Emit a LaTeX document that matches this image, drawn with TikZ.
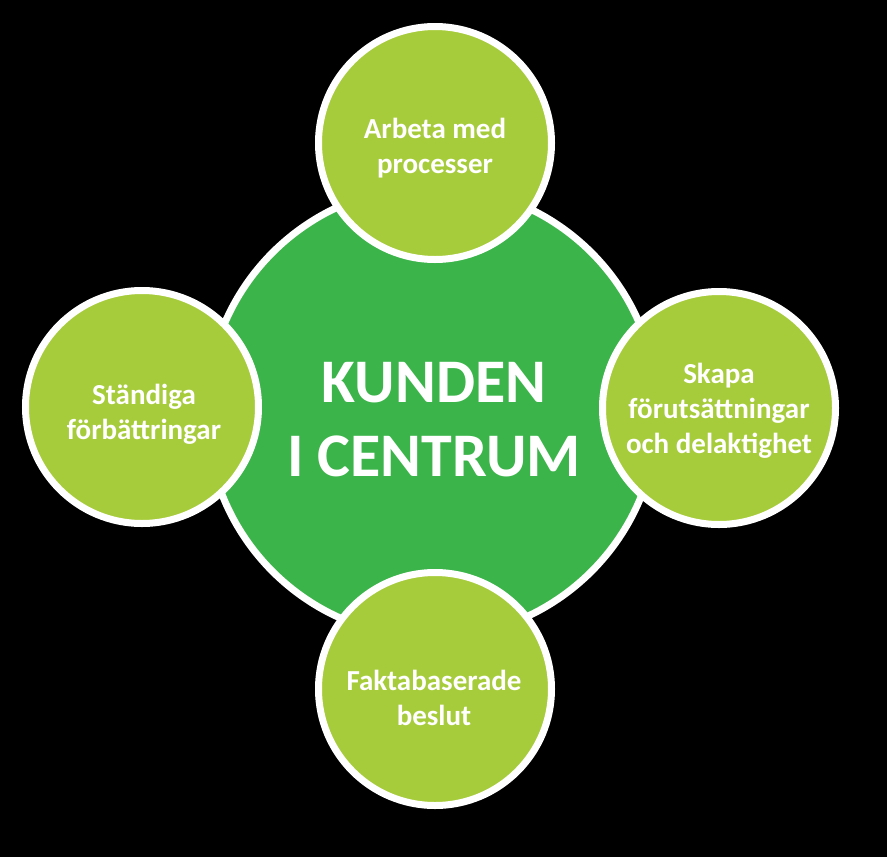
\documentclass[tikz,border=0pt]{standalone}
\usepackage{fontspec}
\setmainfont{Carlito}
\definecolor{centergreen}{HTML}{3BB44A}
\definecolor{leafgreen}{HTML}{A7CC3B}
\begin{document}
\begin{tikzpicture}[x=1pt,y=-1pt,
  hub/.style={circle,draw=white,line width=7pt,fill=centergreen,minimum size=451pt,inner sep=0pt},
  leaf/.style={circle,draw=white,line width=7pt,fill=leafgreen,minimum size=233pt,inner sep=0pt},
  bigtext/.style={text=white,align=center,inner sep=0pt,font=\fontsize{62}{74}\selectfont\bfseries},
  smalltext/.style={text=white,align=center,inner sep=0pt,font=\fontsize{29}{35}\selectfont\bfseries}]
\fill[black] (0,0) rectangle (887,857);
\useasboundingbox (0,0) rectangle (887,857);
\node[hub] (hub) at (432,412) {};
\node[leaf] (top) at (435,143) {};
\node[leaf] (right) at (719,408) {};
\node[leaf] (bottom) at (435,689) {};
\node[leaf] (left) at (142,407) {};
\node[bigtext] (hubtext) at (434,419.5) {KUNDEN\\I CENTRUM};
\node[smalltext] (toptext) at (435,148.5) {Arbeta med\\processer};
\node[smalltext] (righttext) at (719,410.5) {Skapa\\förutsättningar\\och delaktighet};
\node[smalltext] (lefttext) at (144,414.5) {Ständiga\\förbättringar};
\node[smalltext] (bottomtext) at (434,697.5) {Faktabaserade\\beslut};
\end{tikzpicture}
\end{document}
